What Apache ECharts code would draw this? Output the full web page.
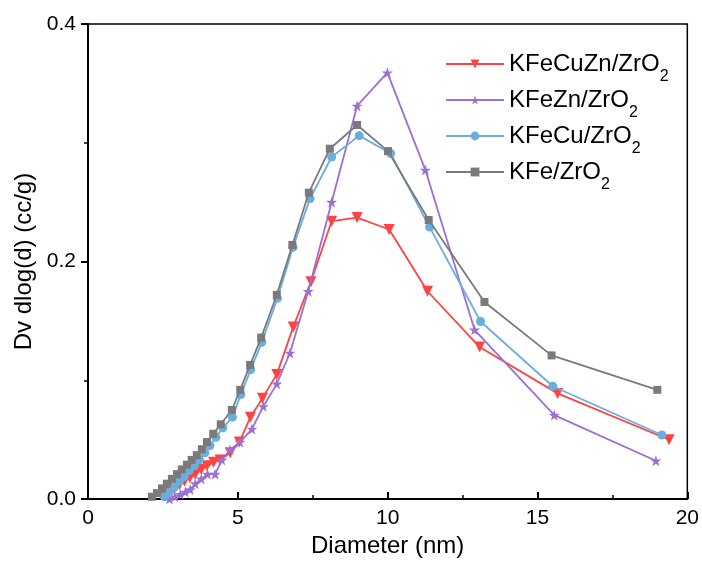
<!DOCTYPE html>
<html>
<head>
<meta charset="utf-8">
<script src="https://cdn.jsdelivr.net/npm/echarts@6/dist/echarts.min.js"></script>
<style>html,body{margin:0;padding:0;background:#fff}#c{width:702px;height:563px}</style>
</head>
<body>
<div id="c"></div>
<script>
const seriesNames = ['KFeCuZn/ZrO', 'KFeZn/ZrO', 'KFeCu/ZrO', 'KFe/ZrO'];
const xTicks = [0, 5, 10, 15, 20];
const yTicks = [0.0, 0.2, 0.4];

const kfecuznX = [2.55,2.72,2.88,3.05,3.22,3.40,3.58,3.78,3.97,4.19,4.41,4.75,5.05,5.42,5.82,6.30,6.85,7.44,8.13,8.98,10.05,11.33,13.07,15.67,19.39];
const kfecuznY = [0.003,0.006,0.009,0.012,0.015,0.018,0.021,0.025,0.028,0.031,0.033,0.039,0.048,0.069,0.085,0.105,0.145,0.183,0.234,0.237,0.227,0.175,0.128,0.089,0.050];

const kfeznX = [2.72,2.90,3.08,3.25,3.41,3.58,3.78,3.99,4.24,4.47,4.74,5.07,5.47,5.85,6.30,6.74,7.35,8.13,8.98,9.99,11.26,12.90,15.56,18.95];
const kfeznY = [0.000,0.002,0.004,0.006,0.008,0.013,0.017,0.021,0.021,0.033,0.0415,0.048,0.059,0.078,0.097,0.123,0.175,0.250,0.331,0.359,0.277,0.1425,0.0707,0.0323];

const kfecuX = [2.55,2.72,2.88,3.05,3.21,3.38,3.55,3.72,3.90,4.07,4.27,4.50,4.82,5.10,5.43,5.80,6.32,6.84,7.41,8.13,9.05,10.10,11.40,13.10,15.51,19.15];
const kfecuY = [0.002,0.006,0.010,0.015,0.019,0.024,0.028,0.033,0.039,0.045,0.052,0.060,0.069,0.088,0.109,0.132,0.169,0.212,0.253,0.288,0.306,0.291,0.229,0.1495,0.095,0.054];

const kfeX = [2.13,2.30,2.47,2.63,2.80,2.97,3.13,3.30,3.46,3.63,3.80,3.97,4.18,4.43,4.80,5.08,5.41,5.78,6.30,6.82,7.37,8.07,8.98,10.01,11.37,13.23,15.47,19.0];
const kfeY = [0.002,0.005,0.009,0.013,0.017,0.021,0.025,0.029,0.033,0.037,0.042,0.048,0.055,0.063,0.075,0.092,0.113,0.136,0.172,0.214,0.258,0.295,0.315,0.293,0.235,0.166,0.121,0.092];

const colors = ['#ff4343', '#9b6fd3', '#6aaede', '#7a7a7a'];
const star = 'path://M50,0 L61.8,35.3 L98.8,35.3 L68.9,57.1 L80.3,92.5 L50,70.6 L19.7,92.5 L31.1,57.1 L1.2,35.3 L38.2,35.3 Z';
const symbols = [
  {symbol: 'triangle', symbolRotate: 180, symbolSize: 11},
  {symbol: star, symbolRotate: 0, symbolSize: 11},
  {symbol: 'circle', symbolRotate: 0, symbolSize: 9},
  {symbol: 'rect', symbolRotate: 0, symbolSize: 8}
];
const xs = [kfecuznX, kfeznX, kfecuX, kfeX];
const ys = [kfecuznY, kfeznY, kfecuY, kfeY];

const series = seriesNames.map((n, i) => ({
  name: n,
  type: 'line',
  data: xs[i].map((x, j) => [x, ys[i][j]]),
  symbol: symbols[i].symbol,
  symbolRotate: symbols[i].symbolRotate,
  symbolSize: symbols[i].symbolSize,
  showAllSymbol: true,
  lineStyle: {color: colors[i], width: 1.8},
  itemStyle: {color: colors[i]},
  z: 2 + i,
  animation: false
}));

const chart = echarts.init(document.getElementById('c'), null, {renderer: 'canvas'});
chart.setOption({
  animation: false,
  grid: {left: 88, right: 14, top: 24, bottom: 57, show: true, borderColor: '#000', borderWidth: 1.5},
  legend: {
    left: 440, top: 47, orient: 'vertical', itemWidth: 58, itemHeight: 11, itemGap: 3,
    data: seriesNames,
    formatter: n => '{a|' + n + '}{s|2}',
    textStyle: {
      fontFamily: 'Liberation Sans', fontSize: 24, color: '#000',
      rich: {a: {fontFamily: 'Liberation Sans', fontSize: 24, color: '#000'}, s: {fontFamily: 'Liberation Sans', fontSize: 16, color: '#000', verticalAlign: 'bottom', padding: [0,0,-9,0]}}
    }
  },
  xAxis: {
    type: 'value', min: 0, max: 20, interval: 5,
    name: 'Diameter (nm)', nameLocation: 'middle', nameGap: 32,
    nameTextStyle: {fontFamily: 'Liberation Sans', fontSize: 24, color: '#000'},
    axisLine: {show: true, lineStyle: {color: '#000', width: 2}},
    axisTick: {show: true, inside: true, length: 7, lineStyle: {color: '#000', width: 2}},
    minorTick: {show: true, splitNumber: 2, length: 4, lineStyle: {color: '#000', width: 1.5}},
    axisLabel: {fontFamily: 'Liberation Sans', fontSize: 21, color: '#000', margin: 9,
      formatter: v => xTicks.includes(v) ? String(v) : ''},
    splitLine: {show: false}
  },
  yAxis: {
    type: 'value', min: 0, max: 0.4, interval: 0.2,
    name: 'Dv dlog(d) (cc/g)', nameLocation: 'middle', nameGap: 48,
    nameTextStyle: {fontFamily: 'Liberation Sans', fontSize: 24, color: '#000'},
    axisLine: {show: true, lineStyle: {color: '#000', width: 2}},
    axisTick: {show: true, inside: false, length: 7, lineStyle: {color: '#000', width: 2}},
    minorTick: {show: true, splitNumber: 2, length: 4, lineStyle: {color: '#000', width: 1.5}},
    axisLabel: {fontFamily: 'Liberation Sans', fontSize: 21, color: '#000', margin: 12,
      formatter: v => yTicks.some(t => Math.abs(t - v) < 1e-9) ? v.toFixed(1) : ''},
    splitLine: {show: false}
  },
  series: series
});
</script>
</body>
</html>
